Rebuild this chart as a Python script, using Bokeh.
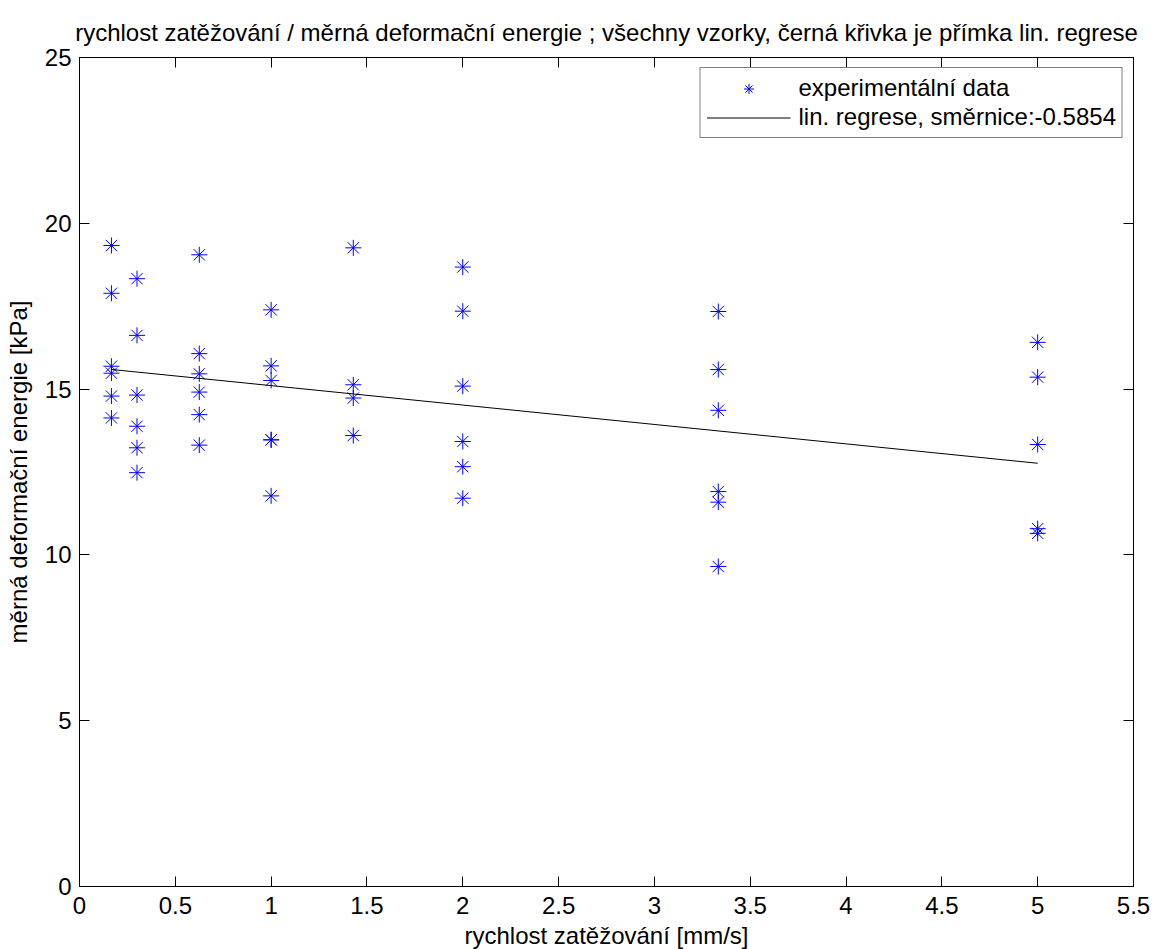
from bokeh.plotting import figure
from bokeh.models import FixedTicker, LinearAxis, Range1d, CustomJSTickFormatter
from bokeh.embed import file_html
from bokeh.resources import INLINE

# loading speeds [mm/s]
speeds = [1/6, 0.3, 0.625, 1.0, 10/7, 2.0, 10/3, 5.0]
# specific deformation energy [kPa] for each speed
e_0167 = [19.33, 17.89, 15.69, 15.48, 14.79, 14.13]
e_0300 = [18.33, 16.62, 14.82, 13.88, 13.23, 12.48]
e_0625 = [19.05, 16.07, 15.46, 14.91, 14.23, 13.31]
e_1000 = [17.39, 15.70, 15.26, 13.47, 13.47, 11.78]
e_1429 = [19.26, 15.13, 14.73, 13.60]
e_2000 = [18.68, 17.35, 15.09, 13.42, 12.66, 11.71]
e_3333 = [17.34, 15.59, 14.36, 11.91, 11.59, 9.65]
e_5000 = [16.41, 15.36, 13.33, 10.79, 10.65]
groups = [e_0167, e_0300, e_0625, e_1000, e_1429, e_2000, e_3333, e_5000]

slope = -0.5854
intercept = 15.69

x_ticks = [0, 0.5, 1, 1.5, 2, 2.5, 3, 3.5, 4, 4.5, 5, 5.5]
x_tick_labels = ["0", "0.5", "1", "1.5", "2", "2.5", "3", "3.5", "4", "4.5", "5", "5.5"]
y_ticks = [0, 5, 10, 15, 20, 25]

title_text = "rychlost zatěžování / měrná deformační energie ; všechny vzorky, černá křivka je přímka lin. regrese"
x_label = "rychlost zatěžování [mm/s]"
y_label = "měrná deformační energie [kPa]"
legend_data = "experimentální data"
legend_line = "lin. regrese, směrnice:" + str(slope)

xs, ys = [], []
for s, g in zip(speeds, groups):
    xs += [s] * len(g)
    ys += g

line_x = [min(speeds), max(speeds)]
line_y = [intercept + slope * v for v in line_x]

FONT = "Liberation Sans"
FS = "24px"

p = figure(frame_width=1054, frame_height=829,
           min_border_left=79, min_border_right=19, min_border_top=57, min_border_bottom=62,
           x_range=Range1d(0, 5.5), y_range=Range1d(0, 25),
           output_backend="svg", toolbar_location=None, title=title_text)

p.title.text_font = FONT
p.title.text_font_size = FS
p.title.text_font_style = "normal"
p.title.align = "center"
p.title.text_color = "black"
p.title.standoff = 24

p.xgrid.visible = False
p.ygrid.visible = False
p.outline_line_color = "black"
p.outline_line_alpha = 1
p.background_fill_color = "white"
p.border_fill_color = "white"

xt = FixedTicker(ticks=x_ticks, minor_ticks=[])
yt = FixedTicker(ticks=y_ticks, minor_ticks=[])

for ax in (p.xaxis[0], p.yaxis[0]):
    ax.major_label_text_font = FONT
    ax.major_label_text_font_size = FS
    ax.major_label_text_color = "black"
    ax.axis_label_text_font = FONT
    ax.axis_label_text_font_size = FS
    ax.axis_label_text_font_style = "normal"
    ax.axis_label_text_color = "black"
    ax.major_tick_in = 10
    ax.major_tick_out = 0
    ax.minor_tick_in = 0
    ax.minor_tick_out = 0
    ax.axis_line_color = "black"
    ax.major_tick_line_color = "black"

p.xaxis[0].ticker = xt
p.xaxis[0].major_label_overrides = {float(t): l for t, l in zip(x_ticks, x_tick_labels)}
p.xaxis[0].axis_label = x_label
p.xaxis[0].major_label_standoff = 10
p.xaxis[0].axis_label_standoff = 5
p.yaxis[0].ticker = yt
p.yaxis[0].axis_label = y_label
p.yaxis[0].major_label_standoff = 8
p.yaxis[0].axis_label_standoff = 10

blank = CustomJSTickFormatter(code="return ''")
top = LinearAxis(ticker=FixedTicker(ticks=x_ticks, minor_ticks=[]), formatter=blank,
                 major_tick_in=10, major_tick_out=0, minor_tick_in=0, minor_tick_out=0,
                 major_label_standoff=0, axis_line_color="black")
right = LinearAxis(ticker=FixedTicker(ticks=y_ticks, minor_ticks=[]), formatter=blank,
                   major_tick_in=10, major_tick_out=0, minor_tick_in=0, minor_tick_out=0,
                   major_label_standoff=0, axis_line_color="black")
p.add_layout(top, "above")
p.add_layout(right, "right")

p.scatter(xs, ys, marker="asterisk", size=16, line_color="blue", line_width=1,
          legend_label=legend_data)
p.line(line_x, line_y, line_color="black", line_width=1, legend_label=legend_line)

lg = p.legend[0]
lg.location = "top_right"
lg.margin = 10
lg.padding = 6
lg.spacing = 1
lg.glyph_width = 84
lg.glyph_height = 25
lg.label_height = 25
lg.label_standoff = 8
lg.label_text_font = FONT
lg.label_text_font_size = "24px"
lg.label_text_color = "black"
lg.border_line_color = "black"
lg.border_line_width = 1
lg.background_fill_color = "white"
lg.background_fill_alpha = 1

open("out.html", "w").write(file_html(p, INLINE))
